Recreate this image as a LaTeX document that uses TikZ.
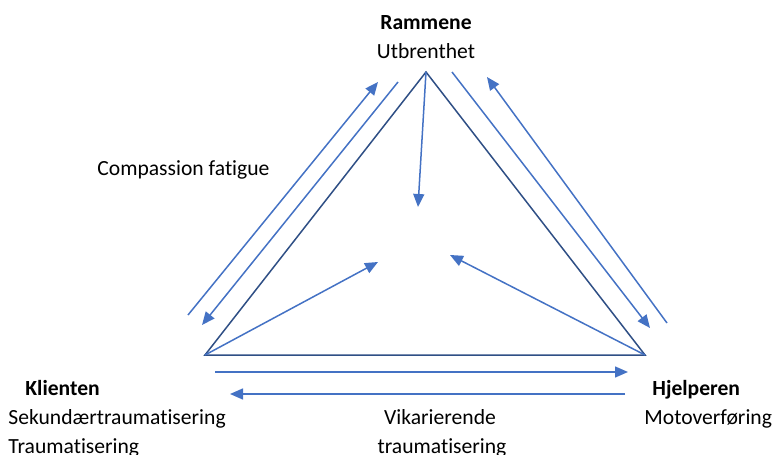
\documentclass[tikz,border=0pt]{standalone}
\usepackage{fontspec}
\setmainfont{Carlito}[Ligatures=NoCommon]
\usetikzlibrary{arrows.meta}
\definecolor{pilblue}{HTML}{4472C4}
\definecolor{trekant}{HTML}{2F4F85}
\begin{document}
\begin{tikzpicture}[x=0.5pt,y=-0.5pt,font=\fontsize{10.8}{13}\selectfont,
	pil/.style={draw=pilblue,line width=0.75pt,-{Triangle[length=6.5pt,width=5.5pt]}},
	txt/.style={anchor=base west,inner sep=0pt},
	fet/.style={font=\fontsize{10.8}{13}\selectfont\bfseries}]
	\useasboundingbox (0,0) rectangle (773,455);
	% hjoerner
	\coordinate (top) at (426,72);
	\coordinate (kl) at (205,355);
	\coordinate (hj) at (645,355);
	\draw[trekant,line width=0.75pt] (top) -- (kl) -- (hj) -- cycle;
	% piler inn mot midten
	\coordinate (midt1) at (418,207);
	\coordinate (midt2) at (378,262);
	\coordinate (midt3) at (450,255);
	\draw[pil] (top) -- (midt1);
	\draw[pil] (kl) -- (midt2);
	\draw[pil] (hj) -- (midt3);
	% piler langs sidene
	\coordinate (v1) at (188,315); \coordinate (v2) at (378,82);
	\coordinate (v3) at (398,82);  \coordinate (v4) at (202,325);
	\coordinate (h1) at (452,72);  \coordinate (h2) at (650,328);
	\coordinate (h3) at (667,323); \coordinate (h4) at (487,77);
	\coordinate (b1) at (215,372); \coordinate (b2) at (628,372);
	\coordinate (b3) at (625,394); \coordinate (b4) at (230,394);
	\draw[pil] (v1) -- (v2);
	\draw[pil] (v3) -- (v4);
	\draw[pil] (h1) -- (h2);
	\draw[pil] (h3) -- (h4);
	\draw[pil] (b1) -- (b2);
	\draw[pil] (b3) -- (b4);
	% tekst
	\node[anchor=base,inner sep=0pt,fet] (ram) at (426,29) {Rammene};
	\node[anchor=base,inner sep=0pt] (utb) at (426,59) {Utbrenthet};
	\node[txt] (cf) at (97,175) {Compassion fatigue};
	\node[txt,fet] (kli) at (25,395) {Klienten};
	\node[txt] (sek) at (8,424) {Sekundærtraumatisering};
	\node[txt] (tra) at (8,453) {Traumatisering};
	\node[txt,fet] (hje) at (652,395) {Hjelperen};
	\node[txt] (mot) at (644,424) {Motoverføring};
	\node[anchor=base,inner sep=0pt] (vik) at (440,424) {Vikarierende};
	\node[anchor=base,inner sep=0pt] (vtr) at (442,453) {traumatisering};
\end{tikzpicture}
\end{document}
